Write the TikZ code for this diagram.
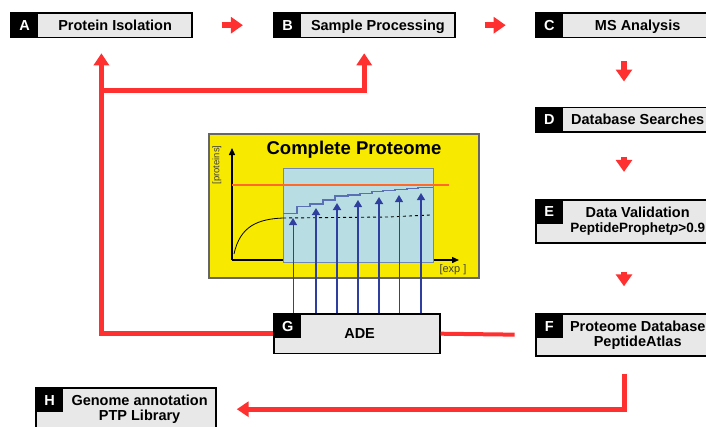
\documentclass[tikz,border=0pt]{standalone}
\usepackage{fontspec}
\setmainfont{Liberation Sans}
\usetikzlibrary{arrows.meta,positioning,fit,backgrounds}
\definecolor{flowred}{HTML}{FF3030}
\definecolor{boxgray}{HTML}{E8E8E8}
\definecolor{panely}{HTML}{F7EA00}
\definecolor{winblue}{HTML}{B8DEE4}
\definecolor{winedge}{HTML}{6F86B8}
\definecolor{adeblue}{HTML}{2F3FA0}
\definecolor{stairc}{HTML}{5A70B4}
\definecolor{limitc}{HTML}{FF6A2A}
\tikzset{
  tab/.style={fill=black, text=white, anchor=north west, minimum width=27, minimum height=24, inner sep=0pt, font=\fontsize{14.5}{15}\selectfont\bfseries},
  body/.style={anchor=north west, inner sep=1pt, align=center, font=\fontsize{14.5}{15}\selectfont\bfseries},
  one/.style={text height=10.4pt, text depth=0pt},
  frame/.style={draw, line width=1.8pt, fill=boxgray, inner sep=0pt},
  stepa/.style={flowred, line width=6pt, -{Triangle[length=12pt,width=16pt]}},
  fb/.style={flowred, line width=5pt, -{Triangle[length=12pt,width=15pt]}},
  fbl/.style={flowred, line width=4pt},
  upa/.style={adeblue, -{Triangle[length=7pt,width=8pt]}},
  axis/.style={line width=1.4pt, -{Triangle[length=7pt,width=6pt]}},
  small/.style={font=\fontsize{#1}{#1}\selectfont, text=black!75},
}

\begin{document}
\begin{tikzpicture}[x=1pt, y=-1pt]
  \useasboundingbox (0,0) rectangle (706,426);
  \node[tab] (tA) at (11,13) {A};
  \node[body, one, minimum width=153, minimum height=24] (A) at (tA.north east) {Protein Isolation};
  \node[tab, right=82pt of A.north east, anchor=north west] (tB) {B};
  \node[body, one, minimum width=153, minimum height=24] (B) at (tB.north east) {Sample Processing};
  \node[tab, right=81pt of B.north east, anchor=north west] (tC) {C};
  \node[body, one, minimum width=149, minimum height=24] (C) at (tC.north east) {MS Analysis};
  \node[tab, below=70pt of tC.south west, anchor=north west] (tD) {D};
  \node[body, one, minimum width=149, minimum height=24] (D) at (tD.north east) {Database Searches};
  \node[tab, below=68pt of tD.south west, anchor=north west] (tE) {E};
  \node[body, minimum width=149, minimum height=43] (E) at (tE.north east) {Data Validation\\{\fontsize{13.5}{15}\selectfont PeptideProphet\textit{p}>0.9}};
  \node[tab, below=90pt of tE.south west, anchor=north west] (tF) {F};
  \node[body, minimum width=149, minimum height=41] (F) at (tF.north east) {Proteome Database\\PeptideAtlas};
  \node[tab] (tG) at (274,314) {G};
  \node[body, one, minimum width=138, minimum height=39] (G) at (tG.north east) {ADE\hspace*{22pt}};
  \node[tab] (tH) at (36,388) {H};
  \node[body, minimum width=152, minimum height=42] (H) at (tH.north east) {Genome annotation\\PTP Library};
  \begin{scope}[on background layer]
    \foreach \n in {A,B,C,D,E,F,G,H} \node[frame, fit=(t\n)(\n)] (f\n) {};
  \end{scope}

  \draw[stepa, shorten <=29pt, shorten >=30pt] (fA) -- (fB);
  \draw[stepa, shorten <=29pt, shorten >=29pt] (fB) -- (fC);
  \draw[stepa, shorten <=23pt, shorten >=25pt] (fC) -- (fD);
  \draw[stepa, shorten <=24pt, shorten >=27pt] (fD) -- (fE);
  \draw[stepa, shorten <=28pt, shorten >=27pt] (fE) -- (fF);

  \coordinate (jn) at (fA.south |- 0,90);
  \draw[fb, shorten >=15pt] (fG.west) -| (fA.south);
  \draw[fb, shorten >=15pt] (jn) -| (fB.south);
  \draw[fbl, shorten <=20pt] (fF.west) -- (fG.east);
  \draw[fb, shorten <=17pt, shorten >=20pt] (fF.south) |- (fH.east);

  \draw[draw=black!60, line width=1.2pt, fill=panely] (209,134) rectangle (479,278);
  \node[font=\fontsize{18.5}{20}\selectfont\bfseries] (title) at (354,150) {Complete Proteome};
  \draw[axis] (232,260) -- (232,148);
  \draw[axis] (232,260) -- (459,260);
  \draw[line width=0.8pt] (234,254) .. controls (240,226) and (258,219) .. (283,218);
  \draw[winedge, fill=winblue, line width=1pt] (283,168) rectangle (433,262);
  \draw[limitc, line width=1.2pt] (232,185) -- (449,185);
  \draw[stairc, line width=1.3pt] (283,213.3) -| (297,206.7) -| (310,204) -| (323,200) -| (335,196) -| (348,195)
    -| (360,193.3) -| (372,191.7) -| (383,190.7) -| (395,189.3) -| (407,188.3) -| (418,187.3) -- (433,187.3);
  \draw[dashed, line width=0.9pt] (283,218) -- (388,217) -- (430,215);
  \foreach \x/\t/\w in {293/218/0.9, 316/208/1.8, 337/203/1.8, 358/200/1.2, 379/197/2, 399/195/1, 421/193/1.4}
    \draw[upa, line width=\w pt] (fG.north -| \x,0) -- (\x,\t);
  \node[small=9.5, rotate=90] (ylab) at (217,165) {[proteins]};
  \node[small=11] (xlab) at (453,270) {[exp ]};
\end{tikzpicture}
\end{document}
